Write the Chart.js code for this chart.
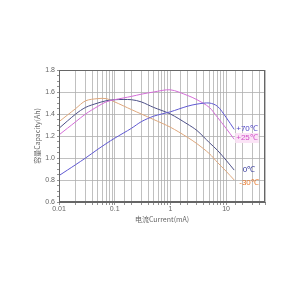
<!DOCTYPE html>
<html><head><meta charset="utf-8">
<script src="https://cdn.jsdelivr.net/npm/chart.js@4/dist/chart.umd.min.js"></script>
<style>html,body{margin:0;padding:0;background:#fff}#wrap{width:300px;height:300px}</style>
</head><body><div id="wrap"><canvas id="c" width="300" height="300"></canvas></div>
<script>
const currents = [0.01,0.02,0.03,0.05,0.07,0.1,0.2,0.3,0.5,1,2,3,5,7,10,14];
const cap70  = [0.84,0.94,1.00,1.08,1.13,1.18,1.27,1.33,1.38,1.42,1.47,1.49,1.50,1.47,1.37,1.26];
const cap25  = [1.21,1.33,1.40,1.47,1.51,1.53,1.56,1.58,1.60,1.62,1.57,1.53,1.46,1.37,1.27,1.17];
const cap0   = [1.27,1.40,1.46,1.50,1.52,1.53,1.53,1.51,1.46,1.40,1.31,1.25,1.14,1.07,0.98,0.89];
const capM30 = [1.33,1.45,1.52,1.54,1.54,1.51,1.44,1.40,1.35,1.28,1.19,1.13,1.04,0.96,0.88,0.80];
const seriesNames = ['+70℃','+25℃','0℃','-30℃'];
const xTickLabels = ['0.01','0.1','1','10'];
const yTickLabels = ['0.6','0.8','1.0','1.2','1.4','1.6','1.8'];

const lineColors = ['#5f58d2','#d46ed8','#4d5088','#dea77c'];
const textColors = ['#4a3fc4','#d14cc8','#2f3398','#e8782a'];
const allCaps = [cap70, cap25, cap0, capM30];

const datasets = allCaps.map((arr,i)=>({
  label: seriesNames[i],
  data: currents.map((c,j)=>({x:c,y:arr[j]})),
  borderColor: lineColors[i],
  borderWidth: 1,
  pointRadius: 0,
  tension: 0.3,
  fill: false
}));

const endLabels = {
  id:'endLabels',
  afterDatasetsDraw(chart){
    const ctx = chart.ctx;
    const pos = [[247,129],[247,138],[249,170],[249,183]];
    ctx.save();
    ctx.font = '8px "Liberation Sans", Arial, sans-serif';
    ctx.textAlign='center'; ctx.textBaseline='middle';
    seriesNames.forEach((n,i)=>{
      if(i===1){ctx.fillStyle='#fbe3f6';const w=ctx.measureText(n).width;ctx.fillRect(pos[i][0]-w/2-1,pos[i][1]-5,w+2,10);}
      ctx.fillStyle=textColors[i];
      ctx.fillText(n,pos[i][0],pos[i][1]);
    });
    ctx.restore();
  }
};

new Chart(document.getElementById('c'),{
  type:'line',
  data:{datasets},
  options:{
    responsive:false, animation:false,
    layout:{padding:{left:32,right:35,top:70,bottom:76}},
    plugins:{legend:{display:false},tooltip:{enabled:false}},
    scales:{
      x:{type:'logarithmic',min:0.01,max:50,
        afterFit(s){s.height=22;},
        grid:{color:'#b0b0b0',lineWidth:0.8,tickLength:3,tickColor:'#777'},
        border:{color:'#666',width:1},
        ticks:{autoSkip:false,maxRotation:0,color:'#666',padding:0,
          font:{size:7,family:'"Liberation Sans", Arial, sans-serif'},
          callback(v){const l=Math.log10(v);const k=Math.round(l);if(Math.abs(l-k)<1e-6){const idx=k+2;return xTickLabels[idx]??'';}return '';}},
        title:{display:true,text:'电流Current(mA)',color:'#666',padding:{top:2,bottom:0},
          font:{size:7,family:'"Noto Sans CJK SC", "Liberation Sans", sans-serif'}}
      },
      y:{min:0.6,max:1.8,
        afterFit(s){s.width=27;},
        afterBuildTicks(s){const t=[];for(let i=0;i<=24;i++){t.push({value:Math.round((0.6+i*0.05)*100)/100});}s.ticks=t;},
        grid:{color(c){const v=c.tick.value;return (Math.abs(Math.round(v*5)-v*5)<1e-6)?'#b0b0b0':'rgba(0,0,0,0)';},lineWidth:0.8,tickLength:2,tickColor:'#777'},
        border:{color:'#666',width:1},
        ticks:{autoSkip:false,color:'#666',padding:2,
          font:{size:7,family:'"Liberation Sans", Arial, sans-serif'},
          callback(v){const r=Math.round((v-0.6)/0.2);if(Math.abs((v-0.6)/0.2-r)<1e-6)return yTickLabels[r];return '';}},
        title:{display:true,text:'容量Capacity(Ah)',color:'#666',padding:{top:1,bottom:0},
          font:{size:7,family:'"Noto Sans CJK SC", "Liberation Sans", sans-serif'}}
      }
    }
  },
  plugins:[endLabels,{id:'frame',afterDraw(chart){const a=chart.chartArea,ctx=chart.ctx;ctx.save();ctx.strokeStyle='#666';ctx.lineWidth=1;ctx.strokeRect(a.left+0.5,a.top+0.5,a.right-a.left-1,a.bottom-a.top-1);ctx.restore();}}]
});
</script></body></html>
